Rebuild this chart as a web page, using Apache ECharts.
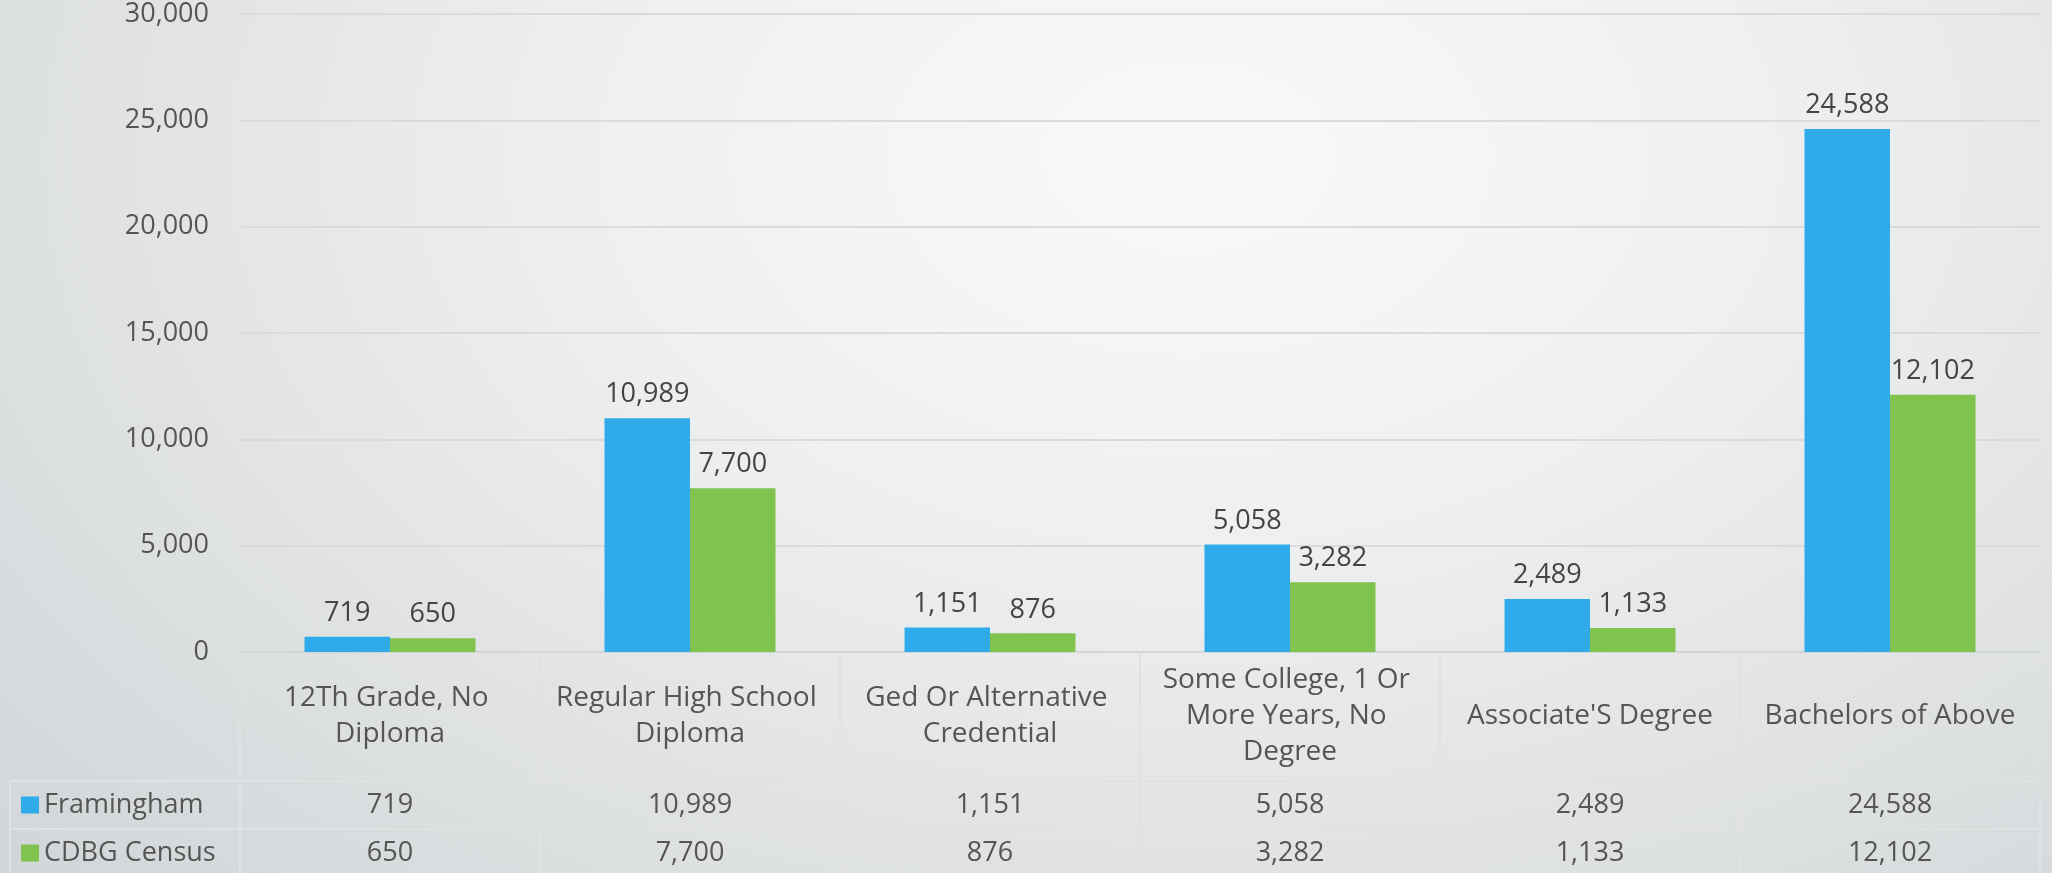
<!DOCTYPE html>
<html>
<head>
<meta charset="utf-8">
<script src="https://cdn.jsdelivr.net/npm/echarts@6/dist/echarts.min.js"></script>
<style>
  html, body { margin: 0; padding: 0; }
  body {
    width: 2052px; height: 873px; overflow: hidden;
    background: radial-gradient(ellipse 78% 120% at 58% 18%, #f8f9f9 0%, #eff0f1 35%, #e1e3e4 65%, #d2d6d8 100%);
  }
  #chart { width: 2052px; height: 873px; }
</style>
</head>
<body>
<div id="chart"></div>
<script>
const categories = [
  "12Th Grade, No Diploma",
  "Regular High School Diploma",
  "Ged Or Alternative Credential",
  "Some College, 1 Or More Years, No Degree",
  "Associate'S Degree",
  "Bachelors of Above"
];
const seriesNames = ["Framingham", "CDBG Census"];
const framingham = [719, 10989, 1151, 5058, 2489, 24588];
const cdbgCensus = [650, 7700, 876, 3282, 1133, 12102];
const yTicks = { min: 0, max: 30000, interval: 5000 };

const fmt = v => Number(v).toLocaleString('en-US');
const FONT = '"Open Sans", sans-serif';
const FS = 27;
const tableLine = '#dfe1e2';
const textColor = '#555';

const chart = echarts.init(document.getElementById('chart'), null, { renderer: 'canvas' });

const option = {
  backgroundColor: 'transparent',
  textStyle: { fontFamily: FONT },
  animation: false,
  grid: { left: 240, right: 12, top: 14, bottom: 221, containLabel: false },
  legend: {
    orient: 'vertical',
    left: 21,
    top: 791,
    padding: 0,
    itemWidth: 18,
    itemHeight: 17,
    itemGap: 20,
    icon: 'rect',
    data: seriesNames,
    textStyle: { fontFamily: FONT, fontSize: FS, color: textColor, lineHeight: 28 }
  },
  xAxis: [
    {
      type: 'category',
      data: categories,
      position: 'bottom',
      axisLine: { show: true, lineStyle: { color: '#d3d6d8', width: 2 } },
      axisTick: { show: true, alignWithLabel: false, length: 240, lineStyle: { color: tableLine, width: 2 } },
      axisLabel: {
        interval: 0, margin: 64, verticalAlign: 'middle',
        fontFamily: FONT, fontSize: 28, color: textColor, lineHeight: 36,
        width: 285, overflow: 'break', align: 'center'
      },
      splitLine: { show: false }
    },
    {
      type: 'category',
      data: categories,
      position: 'bottom',
      offset: 129,
      axisLine: { show: true, lineStyle: { color: tableLine, width: 2 } },
      axisTick: { show: false },
      axisLabel: {
        interval: 0, margin: 24, verticalAlign: 'middle',
        fontFamily: FONT, fontSize: FS, color: textColor,
        formatter: (v, i) => fmt(framingham[i])
      }
    },
    {
      type: 'category',
      data: categories,
      position: 'bottom',
      offset: 177,
      axisLine: { show: true, lineStyle: { color: tableLine, width: 2 } },
      axisTick: { show: false },
      axisLabel: {
        interval: 0, margin: 24, verticalAlign: 'middle',
        fontFamily: FONT, fontSize: FS, color: textColor,
        formatter: (v, i) => fmt(cdbgCensus[i])
      }
    }
  ],
  yAxis: {
    type: 'value',
    min: yTicks.min, max: yTicks.max, interval: yTicks.interval,
    axisLine: { show: false },
    axisTick: { show: false },
    axisLabel: { margin: 31, fontFamily: FONT, fontSize: FS, color: textColor, formatter: v => fmt(v) },
    splitLine: { lineStyle: { color: '#d9dbdc', width: 2 } }
  },
  series: [
    {
      name: seriesNames[0], type: 'bar', xAxisIndex: 0,
      data: framingham,
      barGap: '0%', barCategoryGap: '43%',
      itemStyle: { color: '#30abea' },
      label: { show: true, position: 'top', distance: 10, fontFamily: FONT, fontSize: FS, color: '#444', formatter: p => fmt(p.value) }
    },
    {
      name: seriesNames[1], type: 'bar', xAxisIndex: 0,
      data: cdbgCensus,
      barGap: '0%', barCategoryGap: '43%',
      itemStyle: { color: '#80c34f' },
      label: { show: true, position: 'top', distance: 10, fontFamily: FONT, fontSize: FS, color: '#444', formatter: p => fmt(p.value) }
    }
  ],
  graphic: [
    { type: 'line', shape: { x1: 10, y1: 781, x2: 240, y2: 781 }, style: { stroke: tableLine, lineWidth: 2 } },
    { type: 'line', shape: { x1: 10, y1: 829, x2: 240, y2: 829 }, style: { stroke: tableLine, lineWidth: 2 } },
    { type: 'line', shape: { x1: 10, y1: 781, x2: 10, y2: 880 }, style: { stroke: tableLine, lineWidth: 2 } }
  ]
};
chart.setOption(option);
</script>
</body>
</html>
